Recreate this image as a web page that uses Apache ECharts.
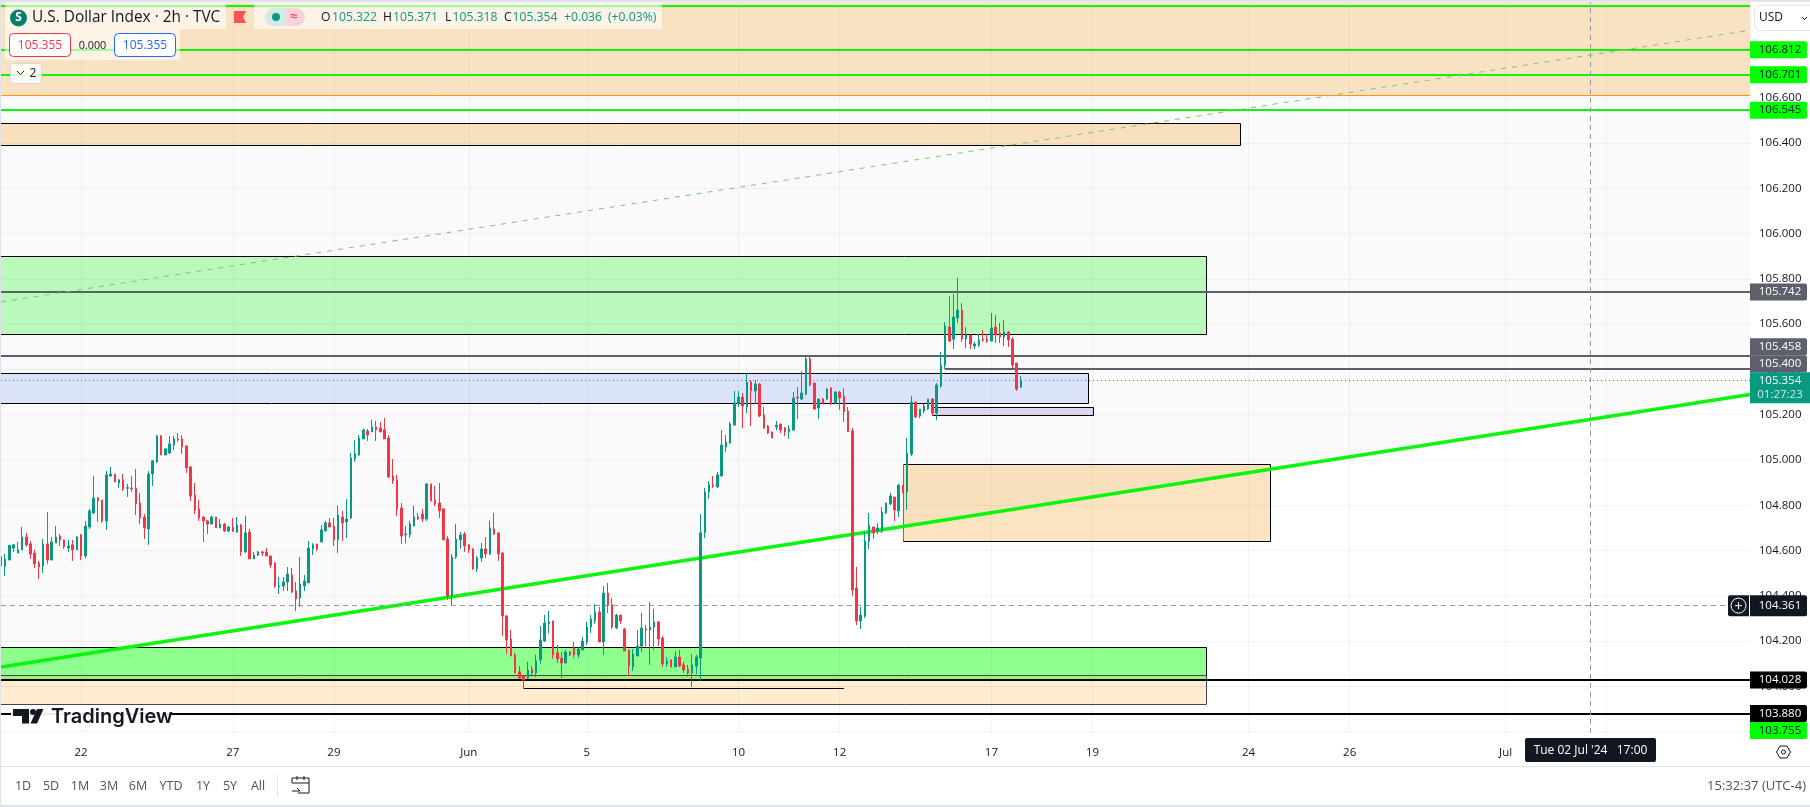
<!DOCTYPE html>
<html>
<head>
<meta charset="utf-8">
<title>U.S. Dollar Index 2h</title>
<style>
  html, body { margin: 0; padding: 0; background: #fff; }
  #chart { width: 1810px; height: 807px; }
</style>
<script src="https://cdn.jsdelivr.net/npm/echarts@6/dist/echarts.min.js"></script>
</head>
<body>
<div id="chart"></div>
<script>
// 2h bars: open, close, low, high
const ohlc = [
  [104.573,104.533,104.532,104.600],[104.529,104.563,104.488,104.585],[104.558,104.622,104.558,104.626],[104.611,104.625,104.594,104.628],
  [104.589,104.603,104.589,104.638],[104.603,104.660,104.603,104.704],[104.660,104.625,104.616,104.678],[104.629,104.585,104.563,104.642],
  [104.589,104.541,104.523,104.603],[104.545,104.527,104.474,104.554],[104.532,104.629,104.501,104.651],[104.629,104.558,104.541,104.770],
  [104.558,104.638,104.558,104.660],[104.633,104.660,104.633,104.708],[104.664,104.647,104.620,104.673],[104.647,104.616,104.607,104.647],
  [104.611,104.620,104.594,104.647],[104.625,104.603,104.554,104.647],[104.603,104.660,104.603,104.664],[104.669,104.576,104.558,104.673],
  [104.576,104.708,104.567,104.731],[104.704,104.775,104.695,104.784],[104.766,104.832,104.761,104.929],[104.832,104.819,104.726,104.837],
  [104.823,104.731,104.722,104.823],[104.731,104.934,104.691,104.951],[104.929,104.938,104.925,104.969],[104.938,104.903,104.903,104.938],
  [104.898,104.912,104.876,104.916],[104.912,104.872,104.863,104.938],[104.875,104.878,104.837,104.894],[104.876,104.873,104.859,104.929],
  [104.876,104.806,104.757,104.960],[104.810,104.744,104.717,104.854],[104.748,104.700,104.651,104.761],[104.695,104.938,104.625,104.951],
  [104.938,104.996,104.885,105.000],[104.991,105.106,104.987,105.110],[105.106,105.022,105.022,105.110],[105.022,105.049,105.022,105.049],
  [105.031,105.071,105.027,105.106],[105.066,105.093,105.044,105.106],[105.093,105.088,105.079,105.119],[105.093,105.057,105.027,105.110],
  [105.062,104.965,104.943,105.062],[104.969,104.841,104.819,104.973],[104.845,104.779,104.761,104.898],[104.784,104.744,104.731,104.823],
  [104.748,104.731,104.638,104.753],[104.731,104.717,104.673,104.735],[104.717,104.748,104.717,104.753],[104.748,104.700,104.700,104.748],
  [104.700,104.717,104.700,104.739],[104.717,104.686,104.682,104.722],[104.686,104.704,104.682,104.708],[104.704,104.686,104.682,104.744],
  [104.682,104.713,104.678,104.748],[104.713,104.594,104.576,104.717],[104.594,104.678,104.589,104.753],[104.682,104.563,104.563,104.695],
  [104.563,104.580,104.563,104.594],[104.580,104.594,104.576,104.598],[104.594,104.589,104.576,104.598],[104.594,104.576,104.576,104.611],
  [104.576,104.536,104.523,104.576],[104.545,104.443,104.435,104.549],[104.439,104.443,104.408,104.483],[104.443,104.461,104.421,104.483],
  [104.461,104.496,104.421,104.527],[104.492,104.417,104.412,104.523],[104.421,104.386,104.333,104.461],[104.390,104.452,104.351,104.571],
  [104.443,104.465,104.421,104.492],[104.457,104.611,104.457,104.642],[104.607,104.625,104.580,104.633],[104.629,104.607,104.598,104.629],
  [104.638,104.691,104.638,104.713],[104.686,104.722,104.686,104.731],[104.722,104.704,104.704,104.744],[104.708,104.647,104.620,104.744],
  [104.647,104.757,104.589,104.797],[104.748,104.722,104.642,104.775],[104.726,104.739,104.655,104.828],[104.744,105.009,104.739,105.031],
  [105.004,105.027,104.991,105.088],[105.022,105.097,105.018,105.110],[105.093,105.133,105.093,105.137],[105.128,105.110,105.084,105.137],
  [105.124,105.146,105.124,105.177],[105.146,105.133,105.084,105.172],[105.141,105.124,105.124,105.168],[105.133,105.093,105.093,105.186],
  [105.097,104.925,104.921,105.110],[104.929,104.907,104.894,105.004],[104.912,104.784,104.753,104.934],[104.788,104.664,104.629,104.810],
  [104.669,104.673,104.633,104.708],[104.669,104.717,104.655,104.731],[104.708,104.748,104.708,104.797],[104.748,104.739,104.735,104.766],
  [104.761,104.739,104.726,104.784],[104.739,104.894,104.731,104.898],[104.894,104.819,104.819,104.894],[104.823,104.806,104.797,104.885],
  [104.810,104.775,104.744,104.898],[104.784,104.647,104.647,104.784],[104.651,104.399,104.382,104.664],[104.399,104.571,104.358,104.585],
  [104.571,104.651,104.563,104.717],[104.647,104.669,104.607,104.682],[104.673,104.620,104.594,104.682],[104.625,104.603,104.589,104.629],
  [104.607,104.519,104.514,104.611],[104.519,104.567,104.505,104.576],[104.567,104.607,104.549,104.633],[104.607,104.585,104.567,104.660],
  [104.585,104.700,104.580,104.731],[104.695,104.673,104.669,104.766],[104.678,104.585,104.554,104.678],[104.589,104.311,104.223,104.594],
  [104.311,104.205,104.143,104.315],[104.209,104.134,104.134,104.249],[104.139,104.059,104.059,104.148],[104.064,104.037,104.037,104.090],
  [104.046,104.028,103.992,104.046],[104.037,104.072,104.033,104.108],[104.077,104.059,104.050,104.090],[104.059,104.112,104.042,104.139],
  [104.117,104.205,104.099,104.267],[104.200,104.280,104.196,104.315],[104.276,104.285,104.234,104.333],[104.289,104.139,104.121,104.289],
  [104.148,104.121,104.103,104.183],[104.125,104.103,104.037,104.152],[104.103,104.152,104.103,104.161],[104.152,104.139,104.134,104.156],
  [104.170,104.139,104.125,104.196],[104.139,104.165,104.125,104.174],[104.161,104.200,104.161,104.218],[104.196,104.262,104.183,104.285],
  [104.262,104.298,104.236,104.315],[104.289,104.329,104.276,104.364],[104.329,104.196,104.196,104.351],[104.196,104.412,104.139,104.443],
  [104.412,104.360,104.324,104.457],[104.360,104.262,104.253,104.390],[104.258,104.315,104.253,104.320],[104.315,104.289,104.276,104.315],
  [104.253,104.156,104.156,104.258],[104.161,104.090,104.046,104.161],[104.086,104.143,104.068,104.165],[104.134,104.178,104.134,104.249],
  [104.178,104.258,104.152,104.324],[104.253,104.249,104.178,104.271],[104.249,104.262,104.095,104.373],[104.262,104.285,104.161,104.342],
  [104.285,104.209,104.178,104.285],[104.214,104.099,104.086,104.223],[104.099,104.112,104.086,104.130],[104.117,104.086,104.086,104.117],
  [104.086,104.130,104.086,104.156],[104.130,104.090,104.086,104.161],[104.095,104.072,104.059,104.108],[104.077,104.059,104.042,104.095],
  [104.059,104.095,103.997,104.143],[104.090,104.130,104.055,104.139],[104.125,104.678,104.024,104.761],[104.678,104.859,104.655,104.876],
  [104.859,104.890,104.828,104.907],[104.890,104.885,104.876,104.929],[104.881,104.934,104.876,104.947],[104.929,105.066,104.929,105.133],
  [105.057,105.079,105.035,105.110],[105.075,105.159,105.071,105.168],[105.154,105.252,105.154,105.305],[105.247,105.278,105.234,105.305],
  [105.278,105.238,105.141,105.296],[105.234,105.344,105.207,105.384],[105.344,105.305,105.150,105.353],[105.305,105.335,105.247,105.353],
  [105.335,105.194,105.190,105.340],[105.199,105.141,105.137,105.234],[105.150,105.119,105.115,105.154],[105.124,105.097,105.097,105.124],
  [105.146,105.154,105.132,105.172],[105.159,105.132,105.119,105.159],[105.141,105.124,105.106,105.146],[105.124,105.137,105.093,105.154],
  [105.132,105.274,105.128,105.300],[105.278,105.274,105.181,105.322],[105.269,105.296,105.265,105.393],[105.291,105.446,105.287,105.459],
  [105.446,105.331,105.327,105.455],[105.340,105.225,105.221,105.340],[105.229,105.269,105.181,105.269],[105.269,105.252,105.247,105.274],
  [105.269,105.313,105.265,105.318],[105.318,105.247,105.243,105.322],[105.252,105.300,105.247,105.305],[105.300,105.274,105.221,105.305],
  [105.282,105.212,105.168,105.318],[105.216,105.124,105.124,105.234],[105.128,104.426,104.399,105.141],[104.434,104.289,104.271,104.527],
  [104.289,104.315,104.253,104.351],[104.311,104.642,104.302,104.682],[104.642,104.713,104.607,104.766],[104.704,104.677,104.651,104.704],
  [104.686,104.700,104.673,104.722],[104.686,104.770,104.677,104.792],[104.766,104.810,104.761,104.810],[104.806,104.841,104.801,104.854],
  [104.836,104.779,104.730,104.836],[104.775,104.889,104.748,104.894],[104.889,104.854,104.854,104.889],[104.858,105.031,104.779,105.097],
  [105.026,105.256,105.017,105.282],[105.256,105.190,105.185,105.256],[105.194,105.225,105.185,105.225],[105.216,105.238,105.207,105.247],
  [105.225,105.269,105.221,105.269],[105.269,105.207,105.194,105.274],[105.207,105.331,105.176,105.340],[105.327,105.419,105.318,105.477],
  [105.419,105.592,105.402,105.609],[105.587,105.525,105.521,105.724],[105.534,105.631,105.490,105.733],[105.627,105.662,105.605,105.804],
  [105.662,105.534,105.521,105.693],[105.534,105.552,105.494,105.587],[105.552,105.512,105.490,105.552],[105.503,105.512,105.490,105.521],
  [105.508,105.530,105.499,105.556],[105.534,105.530,105.521,105.574],[105.534,105.525,105.517,105.556],[105.525,105.583,105.525,105.649],
  [105.587,105.552,105.517,105.640],[105.561,105.543,105.517,105.605],[105.543,105.565,105.503,105.618],[105.565,105.530,105.499,105.570],
  [105.534,105.419,105.406,105.543],[105.428,105.313,105.305,105.428],[105.322,105.354,105.318,105.371]
];

// time axis: bar slot of each day label
const dayTicks = [19, 55, 79, 111, 139, 175, 199, 235, 259, 296, 320, 357, 381];
const dayLabels = ['22', '27', '29', 'Jun', '5', '10', '12', '17', '19', '24', '26', 'Jul', '3'];
const priceTicks = [103.8, 104, 104.2, 104.4, 104.6, 104.8, 105, 105.2, 105.4, 105.6, 105.8, 106, 106.2, 106.4, 106.6, 106.8, 107];
const priceLabels = priceTicks.filter((p) => p < 107);

const slotCount = 415;   // last slot on the time axis, bars stop at 242
const priceMin = 103.794;
const priceMax = 107.0228;

// drawn zones: first slot, last slot, upper price, lower price. They run on past the left edge (slot -1)
const zoneExtents = [
  [-1, slotCount, priceMax, 106.613],
  [-1, 294, 106.490, 106.390],
  [-1, 286, 105.900, 105.555],
  [-1, 258, 105.383, 105.250],
  [221, 259, 105.233, 105.197],
  [214, 301, 104.981, 104.641],
  [-1, 286, 104.172, 104.028],
  [-1, 286, 104.049, 103.921]
];
const zoneFills = ['rgba(246,154,26,0.25)', 'rgba(246,154,26,0.27)', 'rgba(60,245,60,0.33)', 'rgba(41,98,255,0.15)',
  'rgba(110,70,190,0.2)', 'rgba(246,154,26,0.27)', 'rgba(0,255,0,0.44)', 'rgba(255,152,0,0.18)'];
const zoneEdges = [null, '#000000', '#000000', '#000000', '#000000', '#000000', '#000000', '#45464f'];

// drawn lines: first slot, last slot, price at first, price at last
const trendSupport = [0, slotCount, 104.0855, 105.289];
const trendUpper = [0, slotCount, 105.698, 106.898];
const markedLines = [
  [0, slotCount, 106.613, 106.613],
  [0, slotCount, 107.005, 107.005],
  [0, slotCount, 106.812, 106.812],
  [0, slotCount, 106.701, 106.701],
  [0, slotCount, 106.545, 106.545],
  [0, slotCount, 105.742, 105.742],
  [0, slotCount, 105.458, 105.458],
  [224, slotCount, 105.400, 105.400],
  [0, slotCount, 104.028, 104.028],
  [0, slotCount, 103.880, 103.880],
  [124, 200, 103.991, 103.991],
  [214, 214, 104.981, 104.641],
  trendSupport,
  trendUpper,
  [0, slotCount, 105.354, 105.354],
  [0, 410, 104.361, 104.361],
  [377, 377, priceMin, priceMax]
];
const lineLooks = [
  ['#ff9800', 1],
  ['#0cf50c', 2], ['#0cf50c', 2], ['#0cf50c', 2], ['#0cf50c', 2],
  ['#5d606b', 2], ['#5d606b', 2], ['#5d606b', 2],
  ['#000000', 2], ['#000000', 2], ['#000000', 1], ['#f23645', 1],
  ['#0cf50c', 3.5], ['#7cc47c', 1, [5, 6]],
  ['#089981', 1, [1, 3]], ['#9598a1', 1, [5, 4]], ['#9598a1', 1, [5, 4]]
];

// price scale tags
const tagPrices = [106.812, 106.701, 106.545, 105.742, 105.458, 105.400, 104.028, 103.880, 103.755];
const tagKinds = ['green', 'green', 'green', 'gray', 'gray', 'gray', 'black', 'black', 'green'];
const tagColors = { green: ['#00ff00', '#131722'], gray: ['#5d606b', '#ffffff'], black: ['#000000', '#ffffff'] };
const tagNudge = [0, 0, 0, 0, -9.5, -5.7, 0, 0, 0];   // the scale pushes crowded tags apart
const lastPrice = 105.354;
const crossPrice = 104.361;

const FONT = '"Open Sans", "Liberation Sans", sans-serif';
const up = '#089981';
const down = '#f23645';

const chart = echarts.init(document.getElementById('chart'), null, { renderer: 'canvas' });

const crisp = (v) => Math.round(v) + 0.5;

const renderChannel = (params, api) => {
  const a = api.coord([trendSupport[0], trendSupport[2]]);
  const b = api.coord([trendSupport[1], trendSupport[3]]);
  const top = api.coord([0, priceMax])[1];
  return {
    type: 'polygon',
    shape: { points: [a, b, [b[0], top], [a[0], top]] },
    style: { fill: 'rgba(120,123,134,0.04)' }
  };
};

const renderZone = (params, api) => {
  const a = api.coord([api.value(0), api.value(2)]);
  const b = api.coord([api.value(1), api.value(3)]);
  const k = params.dataIndex;
  return {
    type: 'rect',
    shape: { x: crisp(a[0]), y: crisp(a[1]), width: crisp(b[0]) - crisp(a[0]), height: crisp(b[1]) - crisp(a[1]) },
    style: { fill: zoneFills[k], stroke: zoneEdges[k], lineWidth: 1 }
  };
};

const renderLine = (params, api) => {
  const a = api.coord([api.value(0), api.value(2)]);
  const b = api.coord([api.value(1), api.value(3)]);
  const look = lineLooks[params.dataIndex];
  const flat = api.value(2) === api.value(3);
  const vert = api.value(0) === api.value(1);
  return {
    type: 'line',
    shape: {
      x1: vert ? crisp(a[0]) : a[0],
      y1: flat ? (look[1] % 2 ? crisp(a[1]) : Math.round(a[1])) : a[1],
      x2: vert ? crisp(b[0]) : b[0],
      y2: flat ? (look[1] % 2 ? crisp(b[1]) : Math.round(b[1])) : b[1]
    },
    style: { stroke: look[0], lineWidth: look[1], lineDash: look[2] || null }
  };
};

// tag on the price scale, held inside the plot when the price is off-scale
const tagBox = (y, h, w, fill) => ({
  type: 'rect',
  shape: { x: 1750, y: y - h / 2, width: w, height: h, r: [0, 2, 2, 0] },
  style: { fill: fill }
});
const tagText = (y, text, fill) => ({
  type: 'text',
  style: { text: text, x: 1780, y: y, fill: fill, font: '11.5px ' + FONT, align: 'center', verticalAlign: 'middle' }
});

const renderTag = (params, api) => {
  const price = api.value(1);
  const y = Math.min(api.coord([0, price])[1] + tagNudge[params.dataIndex], 730.5);
  const colors = tagColors[tagKinds[params.dataIndex]];
  return { type: 'group', children: [tagBox(y, 17, 57, colors[0]), tagText(y, price.toFixed(3), colors[1])] };
};

const renderLastTag = (params, api) => {
  const y = api.coord([0, api.value(1)])[1];
  return {
    type: 'group',
    children: [
      { type: 'rect', shape: { x: 1750, y: y - 7.5, width: 60, height: 31 }, style: { fill: up } },
      tagText(y + 1, api.value(1).toFixed(3), '#ffffff'),
      tagText(y + 15, '01:27:23', 'rgba(255,255,255,0.8)')
    ]
  };
};

const renderCrossTag = (params, api) => {
  const y = api.coord([0, api.value(1)])[1] + 1;
  return {
    type: 'group',
    children: [
      { type: 'rect', shape: { x: 1728, y: y - 10.5, width: 21, height: 21, r: [2, 0, 0, 2] }, style: { fill: '#131722' } },
      { type: 'circle', shape: { cx: 1738.5, cy: y, r: 7.5 }, style: { fill: 'none', stroke: '#ffffff', lineWidth: 1 } },
      { type: 'line', shape: { x1: 1735, y1: y, x2: 1742, y2: y }, style: { stroke: '#ffffff', lineWidth: 1 } },
      { type: 'line', shape: { x1: 1738.5, y1: y - 3.5, x2: 1738.5, y2: y + 3.5 }, style: { stroke: '#ffffff', lineWidth: 1 } },
      { type: 'rect', shape: { x: 1750, y: y - 10.5, width: 57, height: 21, r: [0, 2, 2, 0] }, style: { fill: '#131722' } },
      tagText(y, api.value(1).toFixed(3), '#ffffff')
    ]
  };
};

const label = (x, y, text, fill, size, extra) => ({
  type: 'text',
  z: 100,
  style: Object.assign({ text: text, x: x, y: y, fill: fill, font: size + 'px ' + FONT, verticalAlign: 'middle' }, extra || {})
});
const block = (x, y, w, h, fill, extra) => ({
  type: 'rect',
  z: 99,
  shape: { x: x, y: y, width: w, height: h, r: (extra && extra.r) || 0 },
  style: { fill: fill, stroke: (extra && extra.stroke) || null, lineWidth: 1 }
});
const rangeButtons = [['1D', 23], ['5D', 51], ['1M', 80], ['3M', 109], ['6M', 138], ['YTD', 171], ['1Y', 203], ['5Y', 230], ['All', 258]];
const legendPrices = [['O', '105.322', 321, 332], ['H', '105.371', 383, 393], ['L', '105.318', 445, 452.5], ['C', '105.354', 504, 512.5]];

const legend = [
  block(0, 0, 1810, 2, '#e0e3eb'),
  block(0, 0, 1, 807, '#e0e3eb'),
  block(0, 766, 1810, 1, '#e0e3eb'),
  block(0, 805, 1810, 2, '#e0e3eb'),
  block(5, 2, 221, 27, 'rgba(255,255,255,0.6)'),
  block(254, 2, 408, 27, 'rgba(255,255,255,0.6)'),
  block(5, 29, 175, 31, 'rgba(255,255,255,0.6)'),
  { type: 'circle', z: 100, shape: { cx: 18.5, cy: 18, r: 8.5 }, style: { fill: '#0b7d6c' } },
  label(18.5, 18, 'S', '#ffffff', 12, { align: 'center', font: 'bold 12px ' + FONT }),
  label(32, 17.5, 'U.S. Dollar Index · 2h · TVC', '#131722', 15.4),
  { type: 'polygon', z: 100, shape: { points: [[234, 11], [246, 11], [243, 17], [246, 23], [234, 23]] }, style: { fill: '#ff5252' } },
  block(265, 8, 20, 18, '#d3ebe4', { r: [9, 0, 0, 9] }),
  block(285, 8, 20, 18, '#f9d3d7', { r: [0, 9, 9, 0] }),
  { type: 'circle', z: 100, shape: { cx: 276, cy: 17, r: 4 }, style: { fill: '#089981' } },
  label(294, 17, '≈', '#e91e63', 14, { align: 'center' }),
  label(564, 17.5, '+0.036', up, 12.2),
  label(608, 17.5, '(+0.03%)', up, 12.2),
  block(9.5, 33.5, 61, 23, '#ffffff', { r: 4, stroke: '#f23645' }),
  label(40, 45.5, '105.355', '#f23645', 12, { align: 'center' }),
  label(92.5, 45.5, '0.000', '#131722', 10.8, { align: 'center' }),
  block(114.5, 33.5, 61, 23, '#ffffff', { r: 4, stroke: '#2962ff' }),
  label(145, 45.5, '105.355', '#2962ff', 12, { align: 'center' }),
  block(10.5, 63.5, 31, 20, 'rgba(255,255,255,0.85)', { r: 3, stroke: '#d6d8e0' }),
  { type: 'polyline', z: 100, shape: { points: [[17, 71], [20.5, 74.5], [24, 71]] }, style: { stroke: '#131722', lineWidth: 1, fill: 'none' } },
  label(33, 73.5, '2', '#131722', 12, { align: 'center' }),
  // USD selector
  block(1754.5, 5.5, 62, 25, '#ffffff', { r: 6, stroke: '#e0e3eb' }),
  label(1759, 18, 'USD', '#131722', 12),
  { type: 'polyline', z: 100, shape: { points: [[1802, 17], [1804.5, 19.5], [1807, 17]] }, style: { stroke: '#131722', lineWidth: 1, fill: 'none' } },
  // logo, it knocks the 103.880 line out behind it
  block(11, 705, 160, 24, 'rgba(255,255,255,0.92)'),
  { type: 'polygon', z: 100, shape: { points: [[13, 709], [29, 709], [29, 723.5], [22, 723.5], [22, 716], [13, 716]] }, style: { fill: '#131722' } },
  { type: 'circle', z: 100, shape: { cx: 33, cy: 712, r: 3 }, style: { fill: '#131722' } },
  { type: 'polygon', z: 100, shape: { points: [[30.5, 723.5], [37, 709], [43.5, 709], [37, 723.5]] }, style: { fill: '#131722' } },
  label(51, 717, 'TradingView', '#131722', 20, { font: '600 20px "Inter", ' + FONT }),
  // crosshair date
  block(1525, 738, 131, 24, '#131722', { r: 2 }),
  label(1590.5, 751, "Tue 02 Jul '24   17:00", '#ffffff', 12, { align: 'center' }),
  // scale settings
  { type: 'polygon', z: 100, shape: { points: [[1776.5, 752], [1780, 746], [1787, 746], [1790.5, 752], [1787, 758], [1780, 758]] }, style: { fill: 'none', stroke: '#131722', lineWidth: 1 } },
  { type: 'circle', z: 100, shape: { cx: 1783.5, cy: 752, r: 2 }, style: { fill: 'none', stroke: '#131722', lineWidth: 1 } },
  // range bar
  block(277, 775, 1, 22, '#e0e3eb'),
  { type: 'polyline', z: 100, shape: { points: [[292, 783], [292, 778], [309, 778], [309, 793], [298, 793]] }, style: { stroke: '#131722', lineWidth: 1, fill: 'none' } },
  { type: 'line', z: 100, shape: { x1: 292, y1: 783, x2: 309, y2: 783 }, style: { stroke: '#131722', lineWidth: 1 } },
  { type: 'line', z: 100, shape: { x1: 297, y1: 776, x2: 297, y2: 780 }, style: { stroke: '#131722', lineWidth: 1 } },
  { type: 'line', z: 100, shape: { x1: 304, y1: 776, x2: 304, y2: 780 }, style: { stroke: '#131722', lineWidth: 1 } },
  { type: 'polyline', z: 100, shape: { points: [[292, 791], [300, 791], [297, 788]] }, style: { stroke: '#131722', lineWidth: 1, fill: 'none' } },
  label(1806, 786.5, '15:32:37 (UTC-4)', '#50535e', 13, { align: 'right' })
];
rangeButtons.forEach((b) => legend.push(label(b[1], 786.5, b[0], '#50535e', 12.5, { align: 'center' })));
legendPrices.forEach((p) => {
  legend.push(label(p[2], 17.5, p[0], '#131722', 12.2));
  legend.push(label(p[3], 17.5, p[1], up, 12.2));
});

const overlay = (name, z, data, renderItem, encode) => ({
  type: 'custom',
  name: name,
  z: z,
  silent: true,
  encode: encode,
  data: data,
  renderItem: renderItem
});
const spanEncode = { x: [0, 1], y: [2, 3] };

chart.setOption({
  animation: false,
  backgroundColor: '#ffffff',
  textStyle: { fontFamily: FONT },
  graphic: { elements: legend },
  grid: { left: 1, top: 2, right: 60, bottom: 74, show: false },
  xAxis: {
    type: 'value',
    min: 0,
    max: slotCount,
    axisLine: { show: false },
    axisTick: { show: false, customValues: dayTicks },
    axisLabel: {
      customValues: dayTicks,
      margin: 14,
      color: '#131722',
      fontSize: 11.5,
      fontFamily: FONT,
      formatter: (v) => dayLabels[dayTicks.indexOf(v)]
    },
    splitLine: { show: true, lineStyle: { color: 'rgba(42,46,57,0.06)', width: 1 } }
  },
  yAxis: {
    type: 'value',
    position: 'right',
    min: priceMin,
    max: priceMax,
    axisLine: { show: false },
    axisTick: { show: false, customValues: priceTicks },
    axisLabel: {
      customValues: priceLabels,
      margin: 9,
      color: '#131722',
      fontSize: 11.5,
      fontFamily: FONT,
      formatter: (v) => v.toFixed(3)
    },
    splitLine: { show: true, lineStyle: { color: 'rgba(42,46,57,0.06)', width: 1 } }
  },
  series: [
    overlay('channel', 1, [trendSupport], renderChannel, spanEncode),
    overlay('zones', 2, zoneExtents, renderZone, spanEncode),
    overlay('lines', 3, markedLines, renderLine, spanEncode),
    {
      type: 'candlestick',
      name: 'DXY',
      z: 4,
      silent: true,
      barWidth: 2,
      data: ohlc.map((bar, i) => [i, bar[0], bar[1], bar[2], bar[3]]),
      itemStyle: { color: up, color0: down, borderColor: up, borderColor0: down, borderWidth: 1 }
    },
    overlay('tags', 20, tagPrices.map((p, i) => [i, p]), renderTag, { x: 0, y: 1 }),
    overlay('last', 21, [[0, lastPrice]], renderLastTag, { x: 0, y: 1 }),
    overlay('cross', 22, [[0, crossPrice]], renderCrossTag, { x: 0, y: 1 })
  ]
});
</script>
</body>
</html>
